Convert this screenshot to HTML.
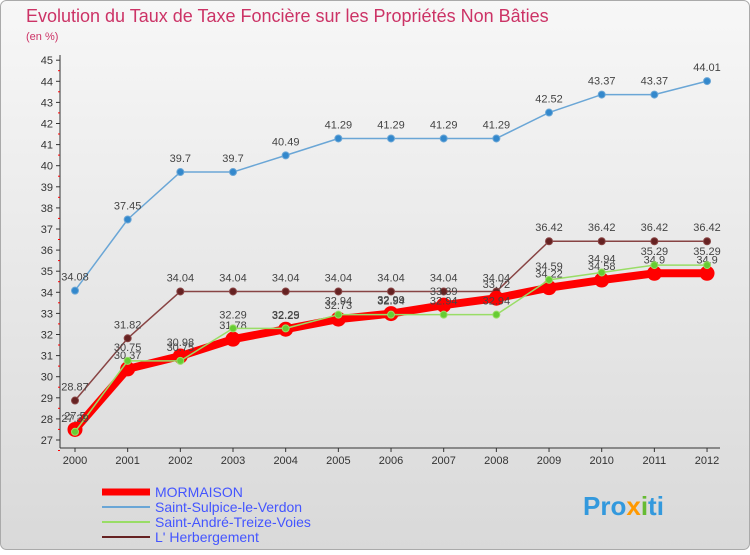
<!DOCTYPE html>
<html><head><meta charset="utf-8"><style>
body{margin:0;width:750px;height:550px;overflow:hidden;font-family:"Liberation Sans",sans-serif}
</style></head><body>
<svg id="c" width="750" height="550" xmlns="http://www.w3.org/2000/svg">
<defs>
<linearGradient id="bg" x1="0" y1="0" x2="0" y2="1"><stop offset="0" stop-color="#f7f7f7"/><stop offset="1" stop-color="#d9d9d9"/></linearGradient>
</defs>
<rect x="0.5" y="0.5" width="749" height="549" rx="6" fill="url(#bg)" stroke="#aaa"/>
<text x="26" y="22" font-size="18" fill="#cc3366">Evolution du Taux de Taxe Foncière sur les Propriétés Non Bâties</text>
<text x="26" y="40" font-size="11" fill="#cc3366">(en %)</text>
<g id="axes"></g>
<g id="series"></g>
<g id="legend" font-size="14">
<line x1="102" y1="492" x2="150" y2="492" stroke="#f00" stroke-width="7"/>
<text x="155" y="497" fill="#4455ff">MORMAISON</text>
<line x1="102" y1="507" x2="150" y2="507" stroke="#6aa6d6" stroke-width="2"/>
<text x="155" y="512" fill="#4455ff">Saint-Sulpice-le-Verdon</text>
<line x1="102" y1="522" x2="150" y2="522" stroke="#99dd66" stroke-width="2"/>
<text x="155" y="527" fill="#4455ff">Saint-André-Treize-Voies</text>
<line x1="102" y1="537" x2="150" y2="537" stroke="#662222" stroke-width="2"/>
<text x="155" y="542" fill="#4455ff">L' Herbergement</text>
</g>
<text x="583" y="515" font-size="26" font-weight="bold" fill="#3399dd">Pro<tspan fill="#ff9900">x</tspan><tspan fill="#66bb33">i</tspan>ti</text>
</svg>
<script>
const years=[2000,2001,2002,2003,2004,2005,2006,2007,2008,2009,2010,2011,2012];
const mormaison=[27.5,30.37,30.98,31.78,32.25,32.73,32.99,33.39,33.72,34.22,34.58,34.9,34.9];
const sulpice=[34.08,37.45,39.7,39.7,40.49,41.29,41.29,41.29,41.29,42.52,43.37,43.37,44.01];
const andre=[27.39,30.75,30.75,32.29,32.29,32.94,32.94,32.94,32.94,34.59,34.94,35.29,35.29];
const herb=[28.87,31.82,34.04,34.04,34.04,34.04,34.04,34.04,34.04,36.42,36.42,36.42,36.42];
const yTicks=[27,28,29,30,31,32,33,34,35,36,37,38,39,40,41,42,43,44,45];
const NS="http://www.w3.org/2000/svg";
const X=i=>75+i*52.67, Y=v=>440-(v-27)*21.1;
function mk(p,t,a){const e=document.createElementNS(NS,t);for(const k in a)e.setAttribute(k,a[k]);p.appendChild(e);return e;}
const ax=document.getElementById('axes');
let l=mk(ax,'line',{x1:60,y1:55,x2:60,y2:448,stroke:'#333'});


l=mk(ax,'line',{x1:60,y1:448,x2:720,y2:448,stroke:'#333'});


yTicks.forEach(v=>{const y=Y(v);
 mk(ax,'line',{x1:56,y1:y,x2:60,y2:y,stroke:'#333'});
 mk(ax,'line',{x1:58,y1:y+10.5,x2:60,y2:y+10.5,stroke:'#f00'});
 const t=mk(ax,'text',{x:53,y:y+4,'font-size':11,'text-anchor':'end',fill:'#333'});t.textContent=v;
 
 });
years.forEach((yr,i)=>{const x=X(i);
 mk(ax,'line',{x1:x,y1:448,x2:x,y2:452,stroke:'#333'});
 const t=mk(ax,'text',{x:x,y:464,'font-size':11,'text-anchor':'middle',fill:'#333'});t.textContent=yr;
 
 });
const sg=document.getElementById('series');
function series(d,name,col,w,r,pcol){
 const g=mk(sg,'g',{});
 
 
 mk(g,'polyline',{points:d.map((v,i)=>X(i)+','+Y(v)).join(' '),fill:'none',stroke:col,'stroke-width':w,'stroke-linejoin':'round'});
 d.forEach((v,i)=>{const c=mk(g,'circle',{cx:X(i),cy:Y(v),r:r,fill:pcol,stroke:col});
  
  
  const t=mk(g,'text',{x:X(i),y:Y(v)-10,'font-size':11,'text-anchor':'middle',fill:'#444'});t.textContent=String(v);
  
  });
}
series(sulpice,'saint-sulpice-series','#6aa6d6',1.5,3.5,'#3388cc');
series(herb,'herbergement-series','#884444',1.5,3.5,'#662222');
series(mormaison,'mormaison-series','#f00',8,7,'#f00');
series(andre,'saint-andre-series','#99dd66',1.5,3.5,'#66cc33');
</script>
</body></html>
